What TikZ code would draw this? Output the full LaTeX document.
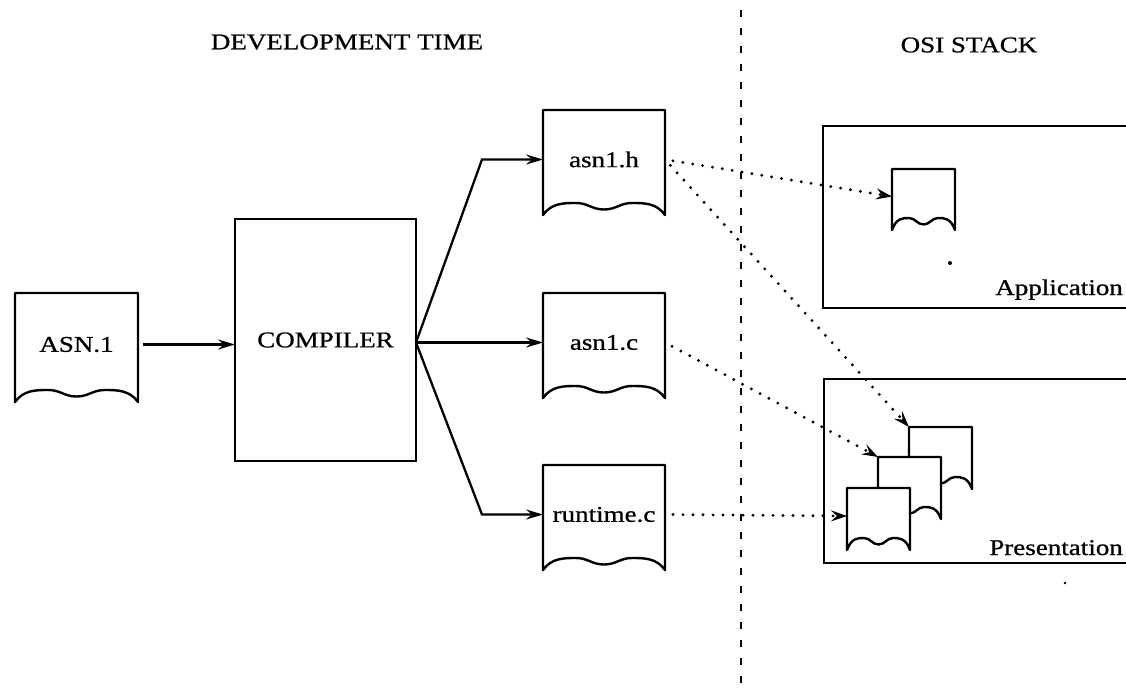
\documentclass[tikz,border=0pt]{standalone}
\usepackage{fontspec}
\setmainfont{Liberation Serif}[FakeStretch=1.2,FakeBold=0.8]
\usetikzlibrary{arrows.meta,calc}

\newcommand\labelfont{\fontsize{22.5}{26}\selectfont}

\tikzset{
  docline/.style={line width=2.4pt, line join=round},
  doctext/.style={inner sep=0pt, outer sep=0pt, font=\labelfont},
  procbox/.style={draw, line width=2.4pt, inner sep=0pt, outer sep=0pt, font=\labelfont},
  layerbox/.style={draw, line width=2.4pt, inner sep=0pt, outer sep=0pt},
  lbl/.style={inner sep=0pt, font=\labelfont},
  title/.style={inner sep=0pt, font=\labelfont},
  flow/.style={line width=2.3pt, -{Stealth[length=17pt,width=10pt,inset=6pt]}},
  dots/.style={line width=3.2pt, line cap=round, dash pattern=on 0pt off 10pt,
    -{Stealth[length=16pt,width=11pt,inset=6pt]}},
  divider/.style={line width=2.6pt, dash pattern=on 7pt off 11pt},
}

% A sheet of paper with a wavy lower edge; the named node covers its upper part.
% #1 extra style, #2 name, #3 left, #4 top, #5 width, #6 height to the corners, #7 text
\newcommand\paperdoc[7][]{%
  \begin{scope}[shift={(#3,#4)}]
    \pgfmathsetmacro\pdw{#5}%
    \pgfmathsetmacro\pdh{#6}%
    \draw[docline,#1] (0,0) -- (\pdw,0) -- (\pdw,\pdh)
      .. controls +(-0.07*\pdw,-12) and +(0.1*\pdw,0) .. (0.73*\pdw,\pdh-12)
      .. controls +(-0.1*\pdw,0) and +(0.1*\pdw,0) .. (0.5*\pdw,\pdh-5.5)
      .. controls +(-0.1*\pdw,0) and +(0.1*\pdw,0) .. (0.27*\pdw,\pdh-12)
      .. controls +(-0.1*\pdw,0) and +(0.07*\pdw,-12) .. (0,\pdh) -- cycle;
  \end{scope}
  \node[doctext, minimum width=#5, minimum height=#6-6, anchor=north west] (#2) at (#3,#4) {#7};
}

\begin{document}
\begin{tikzpicture}[x=1pt,y=-1pt]
\useasboundingbox (0,0) rectangle (1126,694);
\clip (0,0) rectangle (1126,694);
\fill[white] (0,0) rectangle (1126,694);

% headings
\node[title] (devtitle) at (347,42) {DEVELOPMENT TIME};
\node[title] (osititle) at (969,45) {OSI STACK};

% divider between the two halves
\coordinate (divtop) at (741,10);
\coordinate (divbot) at (741,694);
\draw[divider] (divtop) -- (divbot);

% OSI layers
\node[layerbox, minimum width=320, minimum height=182, anchor=north west] (applayer) at (823,126) {};
\node[lbl, anchor=base east] (applbl) at (1123,295) {Application};
\node[layerbox, minimum width=320, minimum height=184, anchor=north west] (preslayer) at (824,379) {};
\node[lbl, anchor=base east] (preslbl) at (1123,555) {Presentation};

% development side
\paperdoc{asn}{15}{293}{123}{109}{ASN.1}
\node[procbox, minimum width=181, minimum height=242, anchor=north west] (compiler) at (235,219) {COMPILER};
\paperdoc{asnh}{543}{110}{122}{105}{asn1.h}
\paperdoc{asnc}{543}{293}{122}{105}{asn1.c}
\paperdoc{runtime}{543}{465}{122}{105}{runtime.c}

% documents inside the layers
\paperdoc{appdoc}{892}{169}{63}{61}{}
\paperdoc[fill=white]{stackc}{909}{427}{63}{62}{}
\paperdoc[fill=white]{stackb}{878}{457}{63}{62}{}
\paperdoc[fill=white]{stacka}{847}{488}{63}{62}{}

% compiler input and outputs
\draw[flow, shorten <=5pt] (asn.east) -- (compiler.west |- asn.east);
\coordinate (fan) at (compiler.east |- asnc.west);
\draw[flow] (fan) -- ($(asnh.west)+(-61,0)$) -- (asnh.west);
\draw[flow] (fan) -- (asnc.west);
\draw[flow] (fan) -- ($(runtime.west)+(-61,0)$) -- (runtime.west);

% where the generated files end up
\draw[dots, shorten <=8pt] (asnh.east) -- (appdoc.west);
\draw[dots, shorten <=8pt] (asnh.east) -- (stackc.north west);
\draw[dots, shorten <=8pt] (asnc.east) -- (stackb.north west);
\draw[dots, shorten <=8pt] (runtime.east) -- (stacka.west);

% specks
\fill (950,263) circle (2);
\fill (1065,583) circle (1.3);
\end{tikzpicture}
\end{document}
